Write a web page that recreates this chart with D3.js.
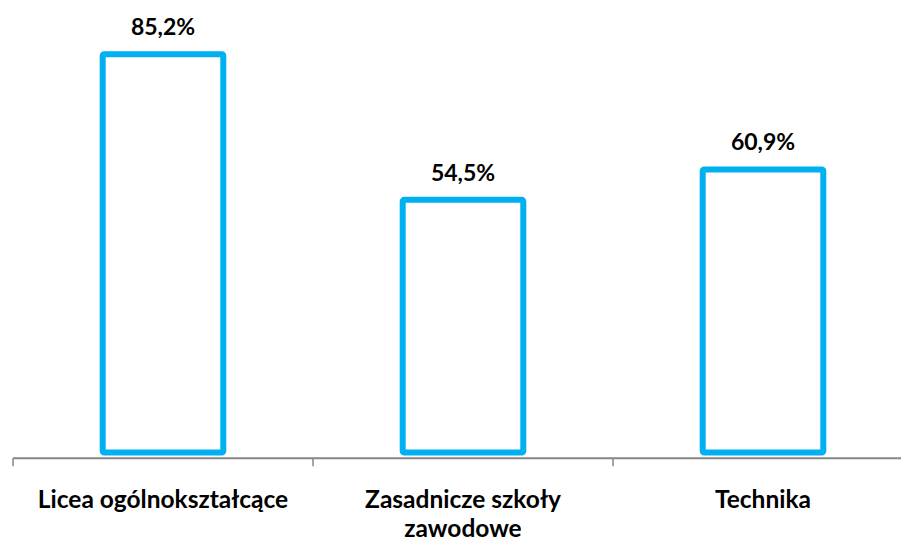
<!DOCTYPE html>
<html>
<head>
<meta charset="utf-8">
<script src="https://cdn.jsdelivr.net/npm/d3@7"></script>
<style>
  html, body { margin: 0; padding: 0; background: #fff; }
  svg { display: block; }
  text { font-family: Lato, "Open Sans", sans-serif; font-weight: bold; fill: #000; }
</style>
</head>
<body>
<svg id="chart" width="901" height="541"></svg>
<script>
const categories = ["Licea ogólnokształcące", "Zasadnicze szkoły zawodowe", "Technika"];
const values = [85.2, 54.5, 60.9];
const valueLabels = ["85,2%", "54,5%", "60,9%"];

const W = 901, H = 541;
const svg = d3.select("#chart");

const x = d3.scaleBand().domain(categories).range([13, 913]).paddingInner(0.578).paddingOuter(0.289);
const y = d3.scaleLinear().domain([0, 90]).range([455.5, 28.4]);

const blue = "#00B0F0";
const sw = 6;

// bars (border drawn inside)
svg.selectAll("rect.bar").data(categories).join("rect")
  .attr("class", "bar")
  .attr("x", d => x(d) + sw / 2)
  .attr("y", (d, i) => y(values[i]) + sw / 2)
  .attr("width", x.bandwidth() - sw)
  .attr("height", (d, i) => y(0) - y(values[i]) - sw)
  .attr("rx", 1.5)
  .attr("fill", "#fff")
  .attr("stroke", blue)
  .attr("stroke-width", sw);

// value labels
svg.selectAll("text.val").data(categories).join("text")
  .attr("class", "val")
  .attr("x", d => x(d) + x.bandwidth() / 2)
  .attr("y", (d, i) => y(values[i]) - 16)
  .attr("text-anchor", "middle")
  .attr("font-size", 23)
  .text((d, i) => valueLabels[i]);

// axis
const axisY = 458.3;
svg.append("line")
  .attr("x1", 13).attr("x2", W)
  .attr("y1", axisY).attr("y2", axisY)
  .attr("stroke", "#868686").attr("stroke-width", 2);

const step = x.step();
const bounds = categories.map(d => x(d) + x.bandwidth() / 2 - step / 2);
bounds.push(bounds[bounds.length - 1] + step);
svg.selectAll("line.tick").data(bounds).join("line")
  .attr("class", "tick")
  .attr("x1", d => d).attr("x2", d => d)
  .attr("y1", axisY).attr("y2", axisY + 8)
  .attr("stroke", "#868686").attr("stroke-width", 1.5);

// category labels with wrapping
const maxW = 262;
svg.selectAll("text.cat").data(categories).join("text")
  .attr("class", "cat")
  .attr("x", d => x(d) + x.bandwidth() / 2)
  .attr("y", 507.5)
  .attr("text-anchor", "middle")
  .attr("font-size", 24.5)
  .each(function(d) {
    const t = d3.select(this);
    const cx = +t.attr("x");
    const words = d.split(" ");
    let line = [];
    let tspan = t.append("tspan").attr("x", cx).attr("dy", 0);
    words.forEach(w => {
      line.push(w);
      tspan.text(line.join(" "));
      if (tspan.node().getComputedTextLength() > maxW && line.length > 1) {
        line.pop();
        tspan.text(line.join(" "));
        line = [w];
        tspan = t.append("tspan").attr("x", cx).attr("dy", 29.5).text(w);
      }
    });
  });
</script>
</body>
</html>
